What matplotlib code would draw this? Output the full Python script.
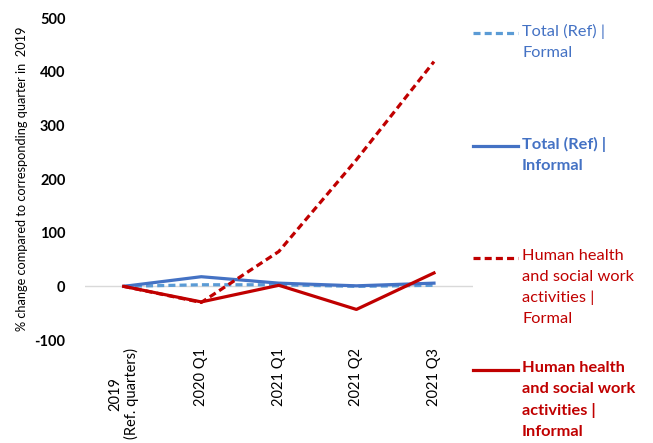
import matplotlib
matplotlib.use("Agg")
import matplotlib.pyplot as plt
from matplotlib.lines import Line2D

# quarters compared with the same quarter of 2019
categories = ["2019\n(Ref. quarters)", "2020 Q1", "2021 Q1", "2021 Q2", "2021 Q3"]
total_formal = [0, 3, 3, 0, 2]
total_informal = [0, 18, 6, 1, 6]
health_formal = [0, -30, 65, 236, 419]
health_informal = [0, -29, 2, -43, 25]

series_labels = ["Total (Ref) |\nFormal",
                 "Total (Ref) |\nInformal",
                 "Human health\nand social work\nactivities |\nFormal",
                 "Human health\nand social work\nactivities |\nInformal"]

plt.rcParams['font.family'] = ['Lato', 'DejaVu Sans']

fig = plt.figure(figsize=(6.53, 4.43), dpi=100)
ax = fig.add_axes([0.130, 0.2325, 0.594, 0.7265])

x = list(range(len(categories)))
ax.axhline(0, color="#d9d9d9", lw=1.0, zorder=1)

styles = [
    (total_formal, "#5b9bd5", (0, (2.2, 1.3)), "normal"),
    (total_informal, "#4472c4", "-", "bold"),
    (health_formal, "#c00000", (0, (2.2, 1.3)), "normal"),
    (health_informal, "#c00000", "-", "bold"),
]
for vals, col, ls, _ in styles:
    ax.plot(x, vals, color=col, linestyle=ls, lw=2.3, zorder=3)

ax.set_xlim(-0.5, len(categories) - 0.5)
ax.set_ylim(-100, 500)
ax.set_yticks(range(-100, 501, 100))
ax.set_yticklabels([str(v) for v in range(-100, 501, 100)], fontweight="bold", fontsize=10.5)
ax.set_xticks(x)
ax.set_xticklabels(categories, rotation=90, fontsize=10.5, va="top", ha="center")
ax.tick_params(length=0)
ax.tick_params(axis="x", pad=6)
ax.tick_params(axis="y", pad=14)
for s in ax.spines.values():
    s.set_visible(False)
ax.set_ylabel("% change compared to corresponding quarter in  2019", fontsize=9.2, labelpad=5)

# legend drawn by hand on the right
W, H = 653, 443
legend_y = [33, 146, 258, 370]
for (vals, col, ls, weight), lab, ly in zip(styles, series_labels, legend_y):
    fig.add_artist(Line2D([473 / W, 518 / W], [1 - ly / H, 1 - ly / H],
                          color=col, linestyle=ls, lw=2.3, transform=fig.transFigure))
    tcol = "#4472c4" if col == "#5b9bd5" else col
    fig.text(522 / W, 1 - (ly - 9) / H, lab, color=tcol, fontsize=11.8, fontweight=weight,
             va="top", ha="left", linespacing=1.62)

fig.savefig("out.png", dpi=100)
